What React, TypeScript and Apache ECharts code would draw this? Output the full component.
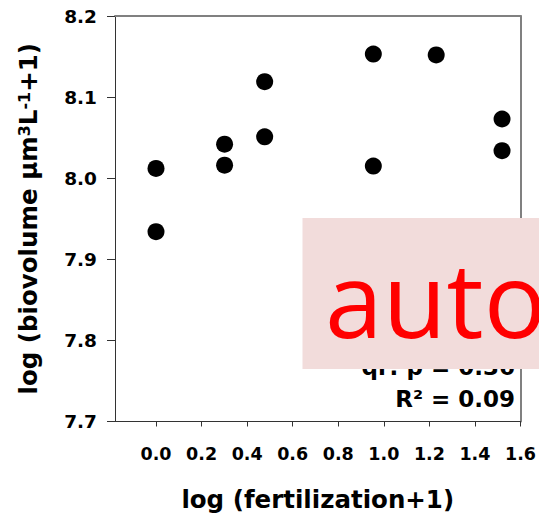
import React, { useEffect, useRef } from "react";
import * as echarts from "echarts";

// log(fertilization+1) of each sample
const xValues = [0, 0, 0.301, 0.301, 0.477, 0.477, 0.954, 0.954, 1.23, 1.519, 1.519];
// log(biovolume µm³L⁻¹+1) of each sample
const yValues = [8.012, 7.934, 8.042, 8.016, 8.119, 8.051, 8.153, 8.015, 8.152, 8.073, 8.034];

const xTicks = [0, 0.2, 0.4, 0.6, 0.8, 1.0, 1.2, 1.4, 1.6];
const yTicks = [7.7, 7.8, 7.9, 8.0, 8.1, 8.2];
const xRange = [-0.18, 1.6];
const yRange = [7.7, 8.2];

const xTitle = "log (fertilization+1)";
const yTitle = "log (biovolume µm{sup|3}L{sup|-1}+1)";
const statLines = ["qr: p = 0.36", "R² = 0.09"];
const overlayText = "auto";

export default function App() {
  const ref = useRef<HTMLDivElement>(null);

  useEffect(() => {
    document.body.style.margin = "0";
    const chart = echarts.init(ref.current!, null, { renderer: "svg" });
    const font = "'DejaVu Sans', sans-serif";
    const dark = "#333333";
    const frame = "#808080";

    chart.setOption({
      animation: false,
      grid: { left: 115, top: 16, right: 18, bottom: 97.5 },
      xAxis: [
        {
          type: "value",
          min: xRange[0],
          max: xRange[1],
          position: "bottom",
          axisLine: { show: true, onZero: false, lineStyle: { color: dark, width: 1 } },
          axisTick: { show: true, customValues: xTicks, length: 5, inside: false, lineStyle: { color: dark, width: 1 } },
          axisLabel: {
            customValues: xTicks,
            formatter: (v: number) => v.toFixed(1),
            fontFamily: font,
            fontWeight: "bold",
            fontSize: 17.5,
            color: "#000",
            margin: 23.5,
          },
          splitLine: { show: false },
          name: xTitle,
          nameLocation: "middle",
          nameGap: 65,
          nameTextStyle: { fontFamily: font, fontWeight: "bold", fontSize: 24.5, color: "#000" },
        },
        {
          type: "value",
          min: xRange[0],
          max: xRange[1],
          position: "top",
          axisLine: { show: true, onZero: false, lineStyle: { color: frame, width: 2 } },
          axisTick: { show: false },
          axisLabel: { show: false },
          splitLine: { show: false },
        },
      ],
      yAxis: [
        {
          type: "value",
          min: yRange[0],
          max: yRange[1],
          position: "left",
          axisLine: { show: true, onZero: false, lineStyle: { color: dark, width: 1 } },
          axisTick: { show: true, customValues: yTicks, length: 8, inside: false, lineStyle: { color: dark, width: 1 } },
          axisLabel: {
            customValues: yTicks,
            formatter: (v: number) => v.toFixed(1),
            fontFamily: font,
            fontWeight: "bold",
            fontSize: 18.5,
            color: "#000",
            margin: 18,
          },
          splitLine: { show: false },
          name: yTitle,
          nameLocation: "middle",
          nameRotate: 90,
          nameGap: 74,
          nameTextStyle: {
            fontFamily: font,
            fontWeight: "bold",
            fontSize: 24.5,
            lineHeight: 25,
            color: "#000",
            rich: {
              sup: {
                fontFamily: font,
                fontWeight: "bold",
                fontSize: 16,
                lineHeight: 14,
                verticalAlign: "top",
                color: "#000",
              },
            },
          },
        },
        {
          type: "value",
          min: yRange[0],
          max: yRange[1],
          position: "right",
          axisLine: { show: true, onZero: false, lineStyle: { color: frame, width: 2 } },
          axisTick: { show: false },
          axisLabel: { show: false },
          splitLine: { show: false },
        },
      ],
      series: [
        {
          type: "scatter",
          xAxisIndex: 0,
          yAxisIndex: 0,
          symbol: "circle",
          symbolSize: 17,
          itemStyle: { color: "#000", opacity: 1 },
          emphasis: { disabled: true },
          data: xValues.map((x, i) => [x, yValues[i]]),
        },
      ],
      graphic: [
        {
          type: "text",
          x: 515,
          y: 367,
          z: 50,
          style: {
            text: statLines[0],
            fontFamily: font,
            fontWeight: "bold",
            fontSize: 23,
            fill: "#000",
            align: "right",
            verticalAlign: "middle",
            textAlign: "right",
            textVerticalAlign: "middle",
          },
        },
        {
          type: "text",
          x: 515,
          y: 398.7,
          z: 50,
          style: {
            text: statLines[1],
            fontFamily: font,
            fontWeight: "bold",
            fontSize: 23,
            fill: "#000",
            align: "right",
            verticalAlign: "middle",
            textAlign: "right",
            textVerticalAlign: "middle",
          },
        },
        {
          type: "rect",
          z: 100,
          shape: { x: 302.5, y: 218, width: 237, height: 151 },
          style: { fill: "#F2DCDB" },
        },
        {
          type: "text",
          x: 325,
          y: 297,
          z: 101,
          style: {
            text: overlayText,
            fontFamily: "'Open Sans', sans-serif",
            fontSize: 104,
            fill: "#FF0000",
            align: "left",
            verticalAlign: "middle",
            textAlign: "left",
            textVerticalAlign: "middle",
          },
        },
      ],
    });

    return () => chart.dispose();
  }, []);

  return <div ref={ref} style={{ width: 539, height: 519 }} />;
}
